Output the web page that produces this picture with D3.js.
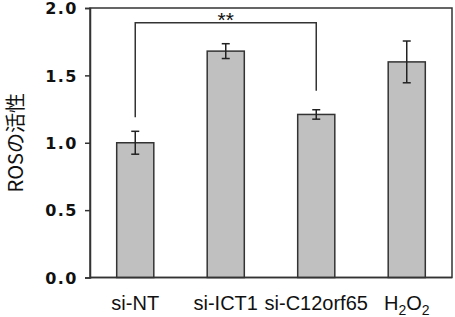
<!DOCTYPE html>
<html>
<head>
<meta charset="utf-8">
<script src="https://cdn.jsdelivr.net/npm/d3@7"></script>
<style>
  body { margin: 0; background: #fff; }
  svg { display: block; }
</style>
</head>
<body>
<div id="chart"></div>
<script>
// data
const categories = ["si-NT", "si-ICT1", "si-C12orf65", "H2O2"];
const means = [1.00, 1.68, 1.21, 1.60];
const errors = [0.085, 0.055, 0.035, 0.155];
const yTicks = [0.0, 0.5, 1.0, 1.5, 2.0];
const yTitle = "ROSの活性";
const sigPair = [0, 2];      // bracket between si-NT and si-C12orf65
const sigLabel = "**";

const W = 455, H = 317;
const margin = {top: 8, right: 3, bottom: 39.5, left: 90};

const svg = d3.select("#chart").append("svg")
  .attr("width", W).attr("height", H);

const x = d3.scaleBand()
  .domain(categories)
  .range([margin.left, W - margin.right])
  .paddingInner(0.59).paddingOuter(0.295);

const y = d3.scaleLinear()
  .domain([0, 2])
  .range([H - margin.bottom, margin.top]);

const g = svg.append("g");

// frame (top and right)
g.append("rect")
  .attr("x", margin.left).attr("y", y(2))
  .attr("width", W - margin.right - margin.left)
  .attr("height", y(0) - y(2))
  .attr("fill", "none").attr("stroke", "#333").attr("stroke-width", 1.5);

// bars
g.selectAll(".bar")
  .data(means)
  .enter().append("rect")
  .attr("class", "bar")
  .attr("x", (d, i) => x(categories[i]))
  .attr("y", d => y(d))
  .attr("width", x.bandwidth())
  .attr("height", d => y(0) - y(d))
  .attr("fill", "#c0c0c0")
  .attr("stroke", "#333")
  .attr("stroke-width", 1.5);

// error bars
const cx = i => x(categories[i]) + x.bandwidth() / 2;
const eb = g.selectAll(".err")
  .data(means)
  .enter().append("g")
  .attr("class", "err")
  .attr("stroke", "#222").attr("stroke-width", 1.5);
eb.append("line")
  .attr("x1", (d, i) => cx(i)).attr("x2", (d, i) => cx(i))
  .attr("y1", (d, i) => y(d - errors[i])).attr("y2", (d, i) => y(d + errors[i]));
eb.append("line")
  .attr("x1", (d, i) => cx(i) - 4).attr("x2", (d, i) => cx(i) + 4)
  .attr("y1", (d, i) => y(d + errors[i])).attr("y2", (d, i) => y(d + errors[i]));
eb.append("line")
  .attr("x1", (d, i) => cx(i) - 4).attr("x2", (d, i) => cx(i) + 4)
  .attr("y1", (d, i) => y(d - errors[i])).attr("y2", (d, i) => y(d - errors[i]));

// y axis
const yAxis = g.append("g")
  .attr("transform", `translate(${margin.left},0)`)
  .call(d3.axisLeft(y).tickValues(yTicks).tickFormat(d3.format(".1f")).tickSize(5).tickPadding(7));
yAxis.select(".domain").attr("stroke", "#333").attr("stroke-width", 1.5);
yAxis.selectAll(".tick line").attr("stroke", "#333").attr("stroke-width", 1.5);
yAxis.selectAll(".tick text")
  .attr("fill", "#111")
  .attr("dy", "0.36em")
  .style("font-family", "'DejaVu Sans', Verdana, sans-serif")
  .style("font-weight", "bold")
  .style("font-size", "16px")
  .style("letter-spacing", "1.5px");

// x axis baseline + labels
g.append("line")
  .attr("x1", margin.left).attr("x2", W - margin.right)
  .attr("y1", y(0)).attr("y2", y(0))
  .attr("stroke", "#333").attr("stroke-width", 1.5);

const xl = g.selectAll(".xlab")
  .data(categories)
  .enter().append("text")
  .attr("class", "xlab")
  .attr("x", d => x(d) + x.bandwidth() / 2)
  .attr("y", 310)
  .attr("text-anchor", "middle")
  .style("font-family", "'Liberation Sans', Arial, sans-serif")
  .style("font-size", "20px")
  .attr("fill", "#111");
xl.each(function(d) {
  const t = d3.select(this);
  if (d === "H2O2") {
    t.append("tspan").text("H");
    t.append("tspan").attr("dy", 5).style("font-size", "14px").text("2");
    t.append("tspan").attr("dy", -5).text("O");
    t.append("tspan").attr("dy", 5).style("font-size", "14px").text("2");
  } else {
    t.text(d);
  }
});

// y title
g.append("text")
  .attr("transform", `translate(23,${(y(0) + y(2)) / 2}) rotate(-90)`)
  .attr("text-anchor", "middle")
  .style("font-family", "'Noto Sans CJK JP', 'Liberation Sans', sans-serif")
  .style("font-size", "20px")
  .attr("fill", "#111")
  .text(yTitle);

// significance bracket
const bx1 = cx(sigPair[0]), bx2 = cx(sigPair[1]);
const topY = y(1.89);
g.append("path")
  .attr("d", `M${bx1},${y(means[sigPair[0]] + errors[sigPair[0]]) - 14}V${topY}H${bx2}V${y(means[sigPair[1]] + errors[sigPair[1]]) - 19}`)
  .attr("fill", "none").attr("stroke", "#333").attr("stroke-width", 1.5);
g.append("text")
  .attr("x", (bx1 + bx2) / 2)
  .attr("y", topY + 4)
  .attr("text-anchor", "middle")
  .style("font-family", "'Liberation Sans', Arial, sans-serif")
  .style("font-size", "21px")
  .attr("fill", "#111")
  .text(sigLabel);
</script>
</body>
</html>
